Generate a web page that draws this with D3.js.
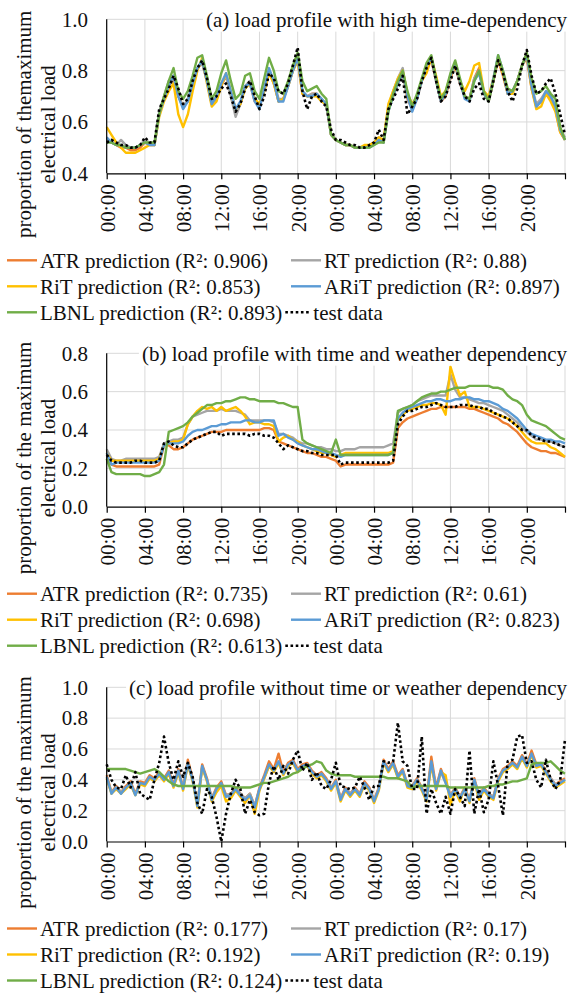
<!DOCTYPE html>
<html>
<head>
<meta charset="utf-8">
<script src="https://cdn.jsdelivr.net/npm/d3@7"></script>
<style>
  body { margin: 0; background: #fff; }
  svg { display: block; }
  svg text { font-family: 'Liberation Serif', 'Times New Roman', serif; }
</style>
</head>
<body>
<div id="chart"></div>
<script>
// two days at 30 minute steps
const hours = d3.range(0, 48.5, 0.5);
const tickHours = [0, 4, 8, 12, 16, 20, 24, 28, 32, 36, 40, 44, 48];
const tickLabels = ['00:00', '04:00', '08:00', '12:00', '16:00', '20:00',
  '00:00', '04:00', '08:00', '12:00', '16:00', '20:00', ''];

const seriesNames = ['ATR prediction', 'RT prediction', 'RiT prediction', 'ARiT prediction', 'LBNL prediction', 'test data'];
const seriesColors = ['#ED7D31', '#A5A5A5', '#FFC000', '#5B9BD5', '#70AD47', '#000000'];

// (a) high time-dependency
const aTitle = '(a) load profile with high time-dependency';
const aYTitle = ['proportion of themaximum', 'electrical load'];
const aYTicks = [0.4, 0.6, 0.8, 1.0];
const aR2 = ['0.906', '0.88', '0.853', '0.897', '0.893'];
const aATR = [.53,.52,.51,.50,.50,.49,.49,.50,.52,.51,.51,.63,.69,.74,.77,.70,.66,.68,.75,.81,.83,.76,.67,.69,.74,.78,.71,.64,.67,.74,.75,.68,.66,.72,.80,.75,.68,.69,.74,.80,.84,.71,.70,.71,.71,.68,.67,.55,.53,
  .52,.51,.51,.50,.50,.50,.51,.52,.53,.52,.65,.70,.75,.79,.69,.65,.69,.76,.81,.84,.76,.68,.70,.77,.82,.75,.70,.69,.77,.81,.71,.68,.76,.84,.78,.71,.72,.76,.82,.85,.73,.66,.68,.71,.69,.65,.56,.53];
const aRT = [.53,.52,.51,.53,.51,.50,.50,.51,.53,.52,.51,.64,.70,.76,.78,.70,.66,.69,.75,.81,.83,.76,.67,.70,.75,.78,.70,.62,.67,.74,.76,.69,.66,.73,.80,.76,.69,.69,.74,.80,.85,.72,.70,.71,.71,.69,.67,.55,.53,
  .52,.51,.51,.50,.50,.50,.51,.52,.54,.52,.66,.72,.77,.81,.70,.65,.70,.76,.82,.85,.77,.69,.71,.78,.82,.75,.70,.69,.77,.80,.71,.68,.77,.85,.79,.71,.72,.76,.82,.86,.74,.67,.69,.72,.70,.66,.57,.54];
const aRiT = [.58,.55,.52,.50,.48,.48,.48,.49,.50,.51,.51,.62,.68,.72,.75,.63,.58,.63,.72,.80,.85,.75,.66,.68,.74,.79,.72,.65,.67,.73,.75,.69,.67,.72,.79,.75,.68,.69,.74,.80,.84,.71,.70,.70,.70,.68,.67,.55,.53,
  .52,.51,.51,.50,.50,.51,.51,.52,.54,.53,.67,.72,.77,.80,.71,.67,.70,.76,.79,.85,.78,.70,.72,.78,.82,.76,.72,.76,.82,.83,.72,.70,.77,.85,.79,.71,.71,.76,.82,.86,.73,.65,.66,.71,.68,.64,.56,.53];
const aARiT = [.54,.52,.51,.51,.50,.50,.50,.51,.52,.51,.51,.63,.69,.74,.78,.70,.65,.68,.75,.81,.84,.76,.67,.70,.75,.79,.72,.65,.68,.74,.75,.68,.65,.73,.81,.76,.68,.68,.74,.80,.85,.72,.70,.70,.71,.69,.67,.55,.53,
  .52,.51,.51,.50,.50,.50,.50,.51,.53,.52,.64,.70,.75,.79,.70,.64,.69,.76,.82,.85,.76,.68,.71,.78,.83,.76,.69,.68,.76,.79,.71,.68,.77,.86,.80,.71,.72,.76,.82,.86,.74,.66,.68,.72,.70,.66,.57,.53];
const aLBNL = [.52,.52,.51,.51,.50,.50,.50,.51,.52,.52,.52,.63,.70,.76,.81,.72,.69,.72,.78,.85,.86,.78,.69,.72,.79,.84,.76,.69,.71,.78,.79,.72,.69,.77,.85,.80,.72,.71,.76,.82,.87,.76,.72,.73,.74,.71,.69,.55,.53,
  .52,.51,.51,.50,.50,.50,.50,.51,.52,.52,.64,.71,.76,.80,.72,.66,.71,.77,.83,.86,.77,.69,.72,.79,.84,.77,.70,.69,.76,.80,.72,.68,.76,.86,.80,.73,.72,.76,.82,.87,.77,.71,.72,.74,.71,.69,.58,.53];
const aTest = [.52,.53,.52,.51,.51,.50,.50,.51,.54,.52,.52,.65,.69,.73,.78,.73,.67,.69,.76,.81,.84,.77,.69,.70,.73,.75,.70,.64,.67,.73,.76,.70,.65,.70,.79,.77,.72,.71,.75,.82,.89,.72,.65,.70,.71,.68,.66,.57,.53,
  .53,.52,.51,.51,.50,.50,.51,.52,.57,.53,.65,.69,.73,.78,.63,.66,.69,.76,.81,.85,.76,.68,.70,.76,.82,.75,.70,.68,.73,.75,.69,.68,.76,.84,.79,.72,.68,.73,.82,.88,.78,.71,.72,.75,.77,.71,.63,.55];

// (b) time and weather dependency
const bTitle = '(b) load profile with time and weather dependency';
const bYTitle = ['proportion of the maximum', 'electrical load'];
const bYTicks = [0, 0.2, 0.4, 0.6, 0.8];
const bR2 = ['0.735', '0.61', '0.698', '0.823', '0.613'];
const bATR = [.25,.22,.21,.21,.21,.21,.21,.21,.21,.21,.21,.22,.32,.32,.30,.30,.31,.33,.35,.36,.37,.38,.39,.39,.39,.40,.40,.40,.40,.40,.40,.40,.40,.41,.41,.40,.34,.33,.32,.31,.30,.29,.28,.28,.27,.26,.26,.25,.24,
  .21,.22,.22,.22,.22,.22,.22,.22,.22,.22,.22,.23,.41,.44,.46,.47,.48,.49,.50,.51,.51,.52,.52,.52,.52,.52,.52,.51,.51,.50,.49,.48,.47,.46,.44,.43,.41,.39,.36,.33,.31,.30,.29,.29,.28,.28,.27,.26];
const bRT = [.30,.25,.24,.24,.25,.25,.25,.25,.25,.25,.25,.26,.33,.34,.35,.35,.36,.43,.47,.48,.49,.50,.50,.50,.51,.50,.50,.50,.49,.48,.45,.45,.45,.45,.45,.44,.38,.38,.37,.36,.34,.33,.33,.32,.31,.31,.30,.30,.29,
  .29,.30,.30,.30,.31,.31,.31,.31,.31,.31,.32,.33,.49,.51,.52,.53,.55,.56,.57,.58,.58,.58,.58,.69,.61,.57,.57,.56,.55,.54,.54,.53,.52,.51,.50,.48,.46,.44,.41,.39,.37,.35,.35,.34,.34,.33,.32,.31];
const bRiT = [.28,.24,.24,.24,.24,.24,.24,.24,.24,.24,.24,.25,.32,.33,.34,.34,.35,.43,.47,.50,.52,.51,.52,.50,.52,.50,.51,.52,.50,.47,.43,.44,.44,.43,.43,.42,.34,.36,.37,.35,.34,.32,.31,.30,.29,.28,.28,.27,.26,
  .27,.28,.28,.28,.28,.28,.28,.28,.28,.28,.28,.29,.45,.48,.50,.51,.52,.53,.53,.54,.54,.53,.48,.73,.65,.58,.60,.52,.52,.52,.51,.50,.49,.48,.47,.46,.44,.42,.39,.36,.34,.33,.33,.33,.31,.30,.28,.26];
const bARiT = [.28,.22,.23,.23,.23,.23,.23,.23,.23,.23,.23,.24,.32,.33,.33,.33,.34,.37,.39,.40,.40,.41,.42,.42,.43,.43,.44,.44,.44,.45,.45,.44,.44,.45,.45,.45,.37,.38,.36,.35,.33,.32,.31,.30,.30,.29,.28,.28,.27,
  .26,.27,.27,.27,.27,.27,.27,.27,.27,.27,.27,.28,.46,.49,.51,.52,.53,.54,.55,.55,.56,.56,.55,.55,.56,.56,.57,.57,.56,.56,.55,.55,.54,.53,.51,.50,.48,.46,.43,.40,.38,.37,.36,.35,.35,.34,.34,.33];
const bLBNL = [.25,.18,.17,.17,.17,.17,.17,.17,.16,.16,.17,.18,.22,.39,.40,.41,.42,.44,.47,.49,.51,.53,.53,.54,.54,.55,.55,.56,.57,.57,.56,.56,.55,.55,.55,.55,.54,.54,.53,.52,.52,.35,.33,.32,.31,.30,.29,.28,.35,
  .27,.27,.27,.27,.27,.27,.27,.27,.27,.27,.27,.28,.50,.51,.52,.53,.55,.57,.58,.59,.59,.60,.60,.61,.62,.62,.62,.63,.63,.63,.63,.63,.62,.62,.61,.58,.56,.55,.53,.48,.45,.44,.43,.42,.40,.38,.36,.35];
const bTest = [.27,.24,.23,.23,.23,.23,.24,.24,.23,.23,.23,.24,.33,.34,.32,.31,.31,.33,.35,.36,.37,.38,.39,.39,.37,.38,.38,.38,.38,.38,.37,.38,.38,.37,.37,.36,.33,.30,.32,.31,.30,.29,.29,.28,.28,.27,.27,.27,.27,
  .22,.23,.23,.23,.23,.23,.23,.23,.23,.23,.23,.24,.43,.47,.50,.50,.51,.52,.52,.53,.54,.53,.52,.52,.52,.53,.53,.53,.52,.52,.51,.51,.49,.48,.47,.46,.44,.42,.40,.40,.37,.36,.35,.34,.34,.33,.32,.31];

// (c) no time or weather dependency
const cTitle = '(c) load profile without time or weather dependency';
const cYTitle = ['proportion of the maximum', 'electrical load'];
const cYTicks = [0, 0.2, 0.4, 0.6, 0.8, 1.0];
const cR2 = ['0.177', '0.17', '0.192', '0.19', '0.124'];
const cATR = [.43,.32,.36,.32,.36,.39,.31,.39,.38,.43,.41,.45,.41,.46,.37,.47,.35,.53,.41,.24,.50,.41,.28,.35,.39,.30,.31,.35,.31,.28,.31,.23,.35,.43,.52,.47,.57,.45,.51,.53,.47,.50,.51,.46,.43,.45,.41,.35,.40,
  .28,.35,.31,.35,.31,.39,.35,.27,.35,.53,.47,.52,.43,.47,.37,.36,.41,.35,.28,.55,.35,.47,.39,.30,.35,.29,.35,.27,.41,.30,.35,.31,.29,.41,.47,.49,.52,.49,.56,.50,.59,.50,.51,.46,.41,.37,.39,.41];
const cRT = [.41,.32,.35,.32,.35,.37,.31,.37,.37,.41,.40,.43,.40,.44,.36,.45,.35,.50,.40,.24,.48,.40,.28,.34,.37,.30,.31,.34,.31,.28,.31,.23,.34,.41,.49,.46,.51,.44,.49,.51,.46,.48,.49,.45,.42,.44,.40,.35,.39,
  .28,.34,.31,.34,.31,.37,.34,.27,.34,.51,.46,.50,.42,.46,.37,.36,.40,.34,.28,.51,.34,.45,.38,.30,.34,.29,.34,.27,.40,.30,.34,.31,.29,.40,.46,.48,.50,.48,.54,.49,.56,.49,.50,.45,.41,.37,.38,.40];
const cRiT = [.41,.31,.34,.31,.34,.37,.30,.37,.36,.41,.39,.43,.39,.44,.35,.45,.33,.50,.39,.22,.48,.39,.26,.32,.36,.26,.28,.33,.29,.25,.30,.18,.33,.41,.49,.45,.51,.43,.49,.51,.45,.48,.49,.44,.41,.43,.39,.33,.38,
  .26,.33,.29,.33,.29,.37,.33,.25,.33,.51,.45,.50,.41,.45,.35,.34,.39,.33,.26,.50,.33,.45,.43,.24,.33,.26,.35,.25,.39,.27,.33,.29,.27,.39,.45,.47,.50,.47,.54,.48,.56,.48,.49,.44,.39,.35,.37,.39];
const cARiT = [.42,.31,.35,.31,.35,.38,.30,.38,.37,.42,.40,.44,.40,.45,.36,.46,.34,.51,.40,.23,.49,.40,.27,.34,.38,.29,.30,.34,.30,.27,.30,.22,.34,.42,.50,.46,.52,.44,.50,.52,.46,.49,.50,.45,.42,.44,.40,.34,.39,
  .27,.34,.30,.34,.30,.38,.34,.26,.34,.52,.46,.51,.42,.46,.36,.35,.40,.34,.27,.52,.34,.46,.38,.29,.34,.28,.34,.26,.40,.29,.34,.30,.28,.40,.46,.48,.51,.48,.55,.49,.57,.49,.50,.45,.40,.36,.38,.40];
const cLBNL = [.47,.47,.47,.47,.47,.46,.45,.44,.45,.46,.47,.45,.42,.39,.37,.36,.36,.36,.36,.36,.36,.36,.36,.36,.36,.36,.36,.35,.35,.35,.35,.36,.37,.38,.38,.39,.40,.41,.42,.44,.45,.47,.49,.50,.52,.51,.46,.44,.43,
  .43,.43,.43,.42,.42,.42,.42,.42,.42,.42,.41,.41,.41,.40,.39,.35,.36,.36,.36,.36,.36,.36,.36,.35,.35,.35,.35,.35,.35,.35,.35,.36,.36,.37,.37,.38,.39,.39,.40,.41,.50,.51,.51,.51,.52,.49,.46,.44];
const cTest = [.50,.40,.35,.34,.43,.35,.45,.31,.29,.27,.40,.51,.68,.51,.40,.52,.42,.51,.42,.25,.18,.34,.29,.16,.00,.18,.31,.40,.34,.18,.27,.19,.17,.18,.38,.49,.40,.49,.44,.53,.59,.46,.51,.40,.45,.36,.34,.40,.51,
  .36,.35,.34,.35,.42,.35,.27,.36,.36,.52,.51,.52,.77,.52,.49,.34,.34,.68,.18,.34,.25,.18,.29,.18,.34,.29,.23,.59,.18,.34,.19,.27,.52,.36,.17,.52,.53,.68,.69,.51,.52,.40,.35,.53,.40,.34,.40,.66];

const panels = [
  { top: 19.3, bottom: 173.3, yTicks: aYTicks, title: aTitle, yTitle: aYTitle, r2: aR2,
    series: [aATR, aRT, aRiT, aARiT, aLBNL, aTest] },
  { top: 353.3, bottom: 506.7, yTicks: bYTicks, title: bTitle, yTitle: bYTitle, r2: bR2,
    series: [bATR, bRT, bRiT, bARiT, bLBNL, bTest] },
  { top: 687.3, bottom: 841.5, yTicks: cYTicks, title: cTitle, yTitle: cYTitle, r2: cR2,
    series: [cATR, cRT, cRiT, cARiT, cLBNL, cTest] },
];

const width = 571;
const height = 994;
const fontSize = 21;
const font = "'Liberation Serif', 'Times New Roman', serif";
const left = 106.7;
const right = 565;

const svg = d3.select('#chart')
  .append('svg')
  .attr('width', width)
  .attr('height', height)
  .attr('viewBox', `0 0 ${width} ${height}`)
  .attr('font-family', font);

svg.append('rect')
  .attr('width', width)
  .attr('height', height)
  .attr('fill', '#fff');

const scaleX = d3.scaleLinear()
  .domain([0, 48])
  .range([left, right]);

panels.forEach((p) => {
  const ticks = p.yTicks;
  const scaleY = d3.scaleLinear()
    .domain([ticks[0], ticks[ticks.length - 1]])
    .range([p.bottom, p.top]);

  const chart = svg.append('g');

  // gridlines
  chart.append('g')
    .selectAll('line')
    .data(ticks.slice(1))
    .join('line')
      .attr('x1', left)
      .attr('x2', right)
      .attr('y1', d => scaleY(d))
      .attr('y2', d => scaleY(d))
      .attr('stroke', '#d9d9d9')
      .attr('stroke-width', 1);
  chart.append('g')
    .selectAll('line')
    .data(tickHours.slice(1))
    .join('line')
      .attr('x1', d => scaleX(d))
      .attr('x2', d => scaleX(d))
      .attr('y1', p.top)
      .attr('y2', p.bottom)
      .attr('stroke', '#d9d9d9')
      .attr('stroke-width', 1);

  // series lines
  const line = d3.line()
    .x((d, i) => scaleX(hours[i]))
    .y(d => scaleY(d));

  p.series.forEach((values, k) => {
    const isTest = k === 5;
    chart.append('path')
      .datum(values)
      .attr('d', line)
      .attr('fill', 'none')
      .attr('stroke', seriesColors[k])
      .attr('stroke-width', isTest ? 2.6 : 2.4)
      .attr('stroke-linejoin', 'round')
      .attr('stroke-dasharray', isTest ? '2.6 2.6' : null);
  });

  // x axis
  const axisX = d3.axisBottom(scaleX)
    .tickValues(tickHours)
    .tickSize(6)
    .tickSizeOuter(0)
    .tickFormat((d, i) => tickLabels[i]);

  const gx = chart.append('g')
    .attr('transform', `translate(0, ${p.bottom})`)
    .call(axisX)
    .attr('font-family', font)
    .attr('font-size', fontSize);
  gx.select('.domain').attr('stroke', '#000').attr('stroke-width', 1.2);
  gx.selectAll('.tick line').attr('stroke', '#000').attr('stroke-width', 1.2);
  gx.selectAll('.tick text')
    .attr('transform', 'rotate(-90)')
    .attr('x', -11)
    .attr('y', 0)
    .attr('dy', '0.35em')
    .attr('text-anchor', 'end')
    .attr('fill', '#111');

  // y axis
  chart.append('line')
    .attr('x1', left)
    .attr('x2', left)
    .attr('y1', p.top)
    .attr('y2', p.bottom)
    .attr('stroke', '#000')
    .attr('stroke-width', 1.2);

  chart.append('g')
    .selectAll('text')
    .data(ticks)
    .join('text')
      .attr('x', 88)
      .attr('y', d => scaleY(d))
      .attr('dy', '0.35em')
      .attr('text-anchor', 'end')
      .attr('font-size', fontSize)
      .attr('fill', '#111')
      .text(d => d3.format('.1f')(d));

  // y axis title
  const midY = (p.top + p.bottom) / 2 + 28;
  p.yTitle.forEach((txt, i) => {
    chart.append('text')
      .attr('transform', `translate(${31 + i * 24}, ${midY}) rotate(-90)`)
      .attr('text-anchor', 'middle')
      .attr('font-size', fontSize)
      .attr('fill', '#111')
      .text(txt);
  });

  // panel title on a white box
  const titleGroup = chart.append('g');
  const title = titleGroup.append('text')
    .attr('x', 567)
    .attr('y', p.top)
    .attr('dy', '0.35em')
    .attr('text-anchor', 'end')
    .attr('font-size', fontSize)
    .attr('fill', '#111')
    .text(p.title);
  const box = title.node().getBBox();
  titleGroup.insert('rect', ':first-child')
    .attr('x', box.x - 3)
    .attr('y', box.y)
    .attr('width', box.width + 6)
    .attr('height', box.height)
    .attr('fill', '#fff');

  // legend
  const legendTop = p.bottom + 87;
  const rowStep = 26;
  const legend = chart.append('g');
  let lbnlEnd = 0;
  seriesNames.slice(0, 5).forEach((name, k) => {
    const row = Math.floor(k / 2);
    const col = k % 2;
    const lx = col === 0 ? 7 : 291;
    const ly = legendTop + row * rowStep;
    legend.append('line')
      .attr('x1', lx)
      .attr('x2', lx + 30)
      .attr('y1', ly)
      .attr('y2', ly)
      .attr('stroke', seriesColors[k])
      .attr('stroke-width', 2.4);
    const t = legend.append('text')
      .attr('x', lx + 33)
      .attr('y', ly)
      .attr('dy', '0.35em')
      .attr('font-size', fontSize)
      .attr('fill', '#111')
      .text(`${name} (R²: ${p.r2[k]})`);
    if (k === 4) lbnlEnd = lx + 33 + t.node().getComputedTextLength();
  });
  const ty = legendTop + 2 * rowStep;
  legend.append('line')
    .attr('x1', lbnlEnd + 3)
    .attr('x2', lbnlEnd + 29)
    .attr('y1', ty)
    .attr('y2', ty)
    .attr('stroke', '#000')
    .attr('stroke-width', 2.6)
    .attr('stroke-dasharray', '2.6 2.6');
  legend.append('text')
    .attr('x', lbnlEnd + 31)
    .attr('y', ty)
    .attr('dy', '0.35em')
    .attr('font-size', fontSize)
    .attr('fill', '#111')
    .text(seriesNames[5]);
});
</script>
</body>
</html>
